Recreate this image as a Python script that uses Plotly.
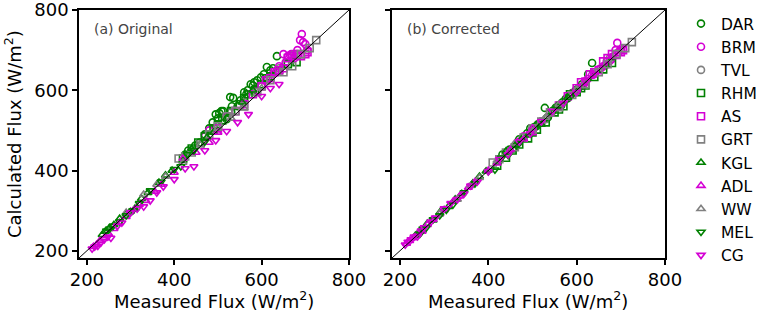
import plotly.graph_objects as go

# ---------------- data (W/m^2) ----------------
stations = ["DAR", "BRM", "TVL", "RHM", "AS", "GRT", "KGL", "ADL", "WW", "MEL", "CG"]

DAR_meas = [425, 432, 448, 458, 470, 480, 488, 495, 500, 503, 508, 512, 520, 528, 532, 535, 545, 552, 560, 565, 568, 575, 580, 583, 590, 598, 605, 612, 620, 626, 635]
DAR_orig = [440, 450, 462, 470, 490, 505, 520, 540, 530, 543, 548, 548, 528, 583, 560, 581, 560, 575, 595, 590, 600, 615, 612, 620, 625, 632, 640, 658, 650, 655, 685]
DAR_corr = [428, 440, 452, 455, 478, 482, 493, 505, 498, 508, 510, 515, 522, 556, 530, 533, 548, 556, 563, 562, 570, 578, 580, 585, 593, 600, 606, 615, 622, 640, 668]

BRM_meas = [470, 480, 520, 590, 600, 615, 625, 635, 640, 650, 655, 660, 665, 668, 675, 680, 682, 688, 692, 695, 700, 705]
BRM_orig = [485, 500, 535, 600, 610, 630, 640, 650, 660, 690, 670, 685, 688, 690, 680, 690, 700, 725, 740, 720, 715, 700]
BRM_corr = [472, 485, 522, 592, 598, 612, 628, 638, 640, 652, 655, 660, 662, 672, 673, 678, 684, 700, 718, 695, 700, 702]

TVL_meas = [530, 560, 600, 640, 675]
TVL_orig = [545, 570, 610, 655, 690]
TVL_corr = [528, 560, 598, 645, 680]

RHM_meas = [420, 440, 455, 470, 490, 500, 510, 530, 550, 560, 570, 585, 600, 610, 620, 640, 660, 680]
RHM_orig = [430, 455, 470, 485, 505, 515, 525, 548, 565, 580, 590, 600, 615, 630, 635, 650, 665, 670]
RHM_corr = [412, 432, 450, 465, 480, 495, 502, 520, 545, 552, 560, 590, 595, 605, 612, 633, 652, 668]

AS_meas = [500, 540, 560, 580, 600, 610, 620, 630, 640, 650, 660, 670, 680, 690, 700, 705]
AS_orig = [505, 548, 565, 590, 610, 625, 630, 645, 650, 655, 680, 685, 690, 685, 690, 695]
AS_corr = [498, 545, 562, 585, 605, 620, 622, 640, 645, 650, 672, 680, 690, 688, 695, 700]

GRT_meas = [410, 425, 440, 460, 480, 500, 520, 540, 560, 590, 620, 650, 670, 690, 710, 725]
GRT_orig = [430, 435, 445, 465, 490, 510, 535, 548, 560, 595, 625, 645, 660, 690, 705, 725]
GRT_corr = [420, 428, 445, 458, 482, 505, 522, 545, 558, 588, 615, 645, 665, 690, 705, 720]

KGL_meas = [235, 242, 250, 262, 275, 290, 310, 325, 340, 365, 380, 395, 420, 440, 460, 475, 490, 520, 555, 580]
KGL_orig = [240, 248, 255, 265, 280, 292, 305, 330, 345, 370, 388, 400, 425, 455, 465, 482, 495, 530, 570, 600]
KGL_corr = [238, 245, 250, 268, 276, 295, 310, 328, 342, 368, 385, 398, 420, 448, 462, 478, 488, 515, 560, 582]

ADL_meas = [215, 222, 230, 240, 250, 262, 275, 290, 300, 320, 335, 355, 370, 400, 420, 450, 480, 500]
ADL_orig = [210, 215, 225, 232, 242, 255, 270, 285, 298, 315, 325, 348, 365, 395, 430, 445, 470, 495]
ADL_corr = [218, 225, 232, 242, 248, 265, 278, 292, 302, 322, 336, 358, 372, 400, 418, 452, 478, 505]

WW_meas = [290, 330, 360, 380, 420, 460, 500, 530, 560, 600]
WW_orig = [295, 340, 365, 385, 420, 465, 505, 530, 555, 605]
WW_corr = [292, 328, 362, 382, 425, 468, 498, 532, 565, 602]

MEL_meas = [245, 252, 260, 275, 290, 305, 320, 345, 370, 400, 415, 430, 445, 470]
MEL_orig = [250, 255, 262, 272, 288, 300, 318, 350, 372, 403, 410, 440, 450, 472]
MEL_corr = [242, 255, 258, 278, 288, 302, 315, 345, 368, 398, 402, 432, 438, 468]

CG_meas = [212, 218, 225, 232, 240, 248, 255, 270, 280, 300, 315, 330, 345, 360, 375, 400, 425, 445, 470, 495, 520, 545, 570, 600, 620, 640]
CG_orig = [205, 210, 212, 220, 228, 235, 232, 262, 270, 295, 305, 310, 325, 345, 360, 378, 405, 410, 450, 475, 498, 520, 540, 585, 605, 615]
CG_corr = [215, 222, 228, 235, 236, 250, 258, 272, 282, 305, 318, 328, 342, 362, 372, 398, 428, 440, 472, 492, 522, 548, 568, 595, 622, 640]

measured = [DAR_meas, BRM_meas, TVL_meas, RHM_meas, AS_meas, GRT_meas, KGL_meas, ADL_meas, WW_meas, MEL_meas, CG_meas]
original = [DAR_orig, BRM_orig, TVL_orig, RHM_orig, AS_orig, GRT_orig, KGL_orig, ADL_orig, WW_orig, MEL_orig, CG_orig]
corrected = [DAR_corr, BRM_corr, TVL_corr, RHM_corr, AS_corr, GRT_corr, KGL_corr, ADL_corr, WW_corr, MEL_corr, CG_corr]
for m, o, c in zip(measured, original, corrected):
    assert len(m) == len(o) == len(c)

tick_vals = [200, 400, 600, 800]
axis_range = [182, 800]

# ---------------- styles ----------------
GREEN, MAG, GRAY = "#008000", "#d400d4", "#808080"
colors = [GREEN, MAG, GRAY, GREEN, MAG, GRAY, GREEN, MAG, GRAY, GREEN, MAG]
symbols = ["circle-open"] * 3 + ["square-open"] * 3 + ["triangle-up-open"] * 3 + ["triangle-down-open"] * 2
FONT = "DejaVu Sans"

fig = go.Figure()
for i, name in enumerate(stations):
    for calc, xa, ya, show in ((original[i], "x", "y", True), (corrected[i], "x2", "y2", False)):
        fig.add_trace(go.Scatter(
            x=measured[i], y=calc, xaxis=xa, yaxis=ya, mode="markers", name=name,
            legendgroup=name, showlegend=show,
            marker=dict(symbol=symbols[i], size=7, color=colors[i], line=dict(width=1.6, color=colors[i])),
        ))

W, H = 765, 318
dom_a = [79 / W, 349 / W]
dom_b = [392 / W, 665 / W]
dom_y = [1 - 258 / H, 1 - 10 / H]

axis_common = dict(range=axis_range, tickvals=tick_vals, ticks="outside", ticklen=5, tickwidth=1.5,
                   tickcolor="black", showline=True, linewidth=1.5, linecolor="black", mirror=True,
                   showgrid=False, zeroline=False, ticklabeloverflow="allow", automargin=False,
                   tickfont=dict(family=FONT, size=18, color="black"))

fig.update_layout(
    width=W, height=H, margin=dict(l=0, r=0, t=0, b=0, autoexpand=False),
    paper_bgcolor="white", plot_bgcolor="white",
    xaxis=dict(domain=dom_a, anchor="y", **axis_common),
    yaxis=dict(domain=dom_y, anchor="x", **axis_common),
    xaxis2=dict(domain=dom_b, anchor="y2", **axis_common),
    yaxis2=dict(domain=dom_y, anchor="x2", showticklabels=False, **axis_common),
    legend=dict(xref="container", yref="container", x=681 / W, y=1 - 7 / H, xanchor="left", yanchor="top",
                font=dict(family=FONT, size=15.5, color="black"), maxheight=320,
                bgcolor="rgba(0,0,0,0)", tracegroupgap=0, itemsizing="trace"),
    showlegend=True,
)

for xr, yr in (("x domain", "y domain"), ("x2 domain", "y2 domain")):
    fig.add_shape(type="line", xref=xr, yref=yr, x0=0, y0=0, x1=1, y1=1, line=dict(color="black", width=1))

ann = [
    dict(text="(a) Original", x=92 / W, y=1 - 29 / H, xanchor="left", yanchor="middle", font=dict(size=14, color="#444444")),
    dict(text="(b) Corrected", x=405 / W, y=1 - 29 / H, xanchor="left", yanchor="middle", font=dict(size=14, color="#444444")),
    dict(text="Measured Flux (W/m<sup>2</sup>)", x=214 / W, y=1 - 300 / H, xanchor="center", yanchor="middle", font=dict(size=18, color="black")),
    dict(text="Measured Flux (W/m<sup>2</sup>)", x=528 / W, y=1 - 300 / H, xanchor="center", yanchor="middle", font=dict(size=18, color="black")),
    dict(text="Calculated Flux (W/m<sup>2</sup>)", x=13 / W, y=1 - 134 / H, xanchor="center", yanchor="middle", textangle=-90, font=dict(size=18, color="black")),
]
for a in ann:
    a["font"]["family"] = FONT
    fig.add_annotation(xref="paper", yref="paper", showarrow=False, **a)

fig.write_html("out.html", config={"displayModeBar": False},
               post_script="document.body.style.margin='0px';document.body.style.overflow='hidden';")
